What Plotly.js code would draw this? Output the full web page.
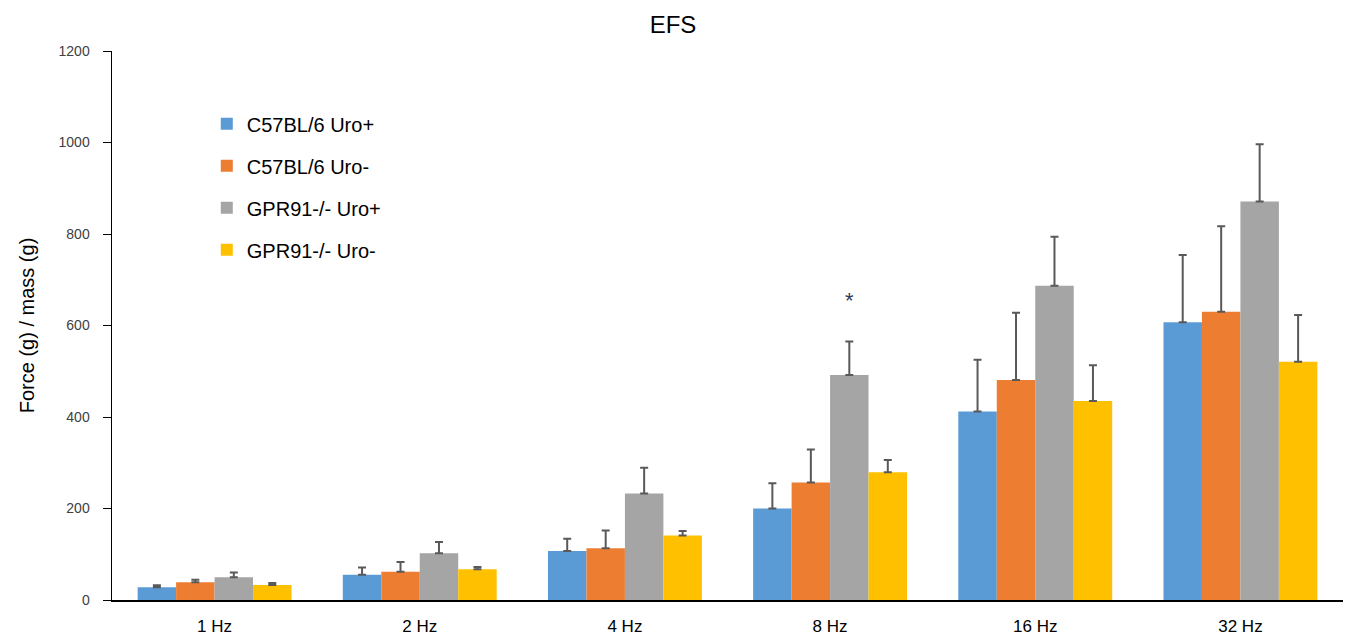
<!DOCTYPE html>
<html>
<head>
<meta charset="utf-8">
<script src="https://cdn.plot.ly/plotly-3.0.1.min.js"></script>
<style>html,body{margin:0;padding:0;background:#fff;}#chart{width:1346px;height:638px;}</style>
</head>
<body>
<div id="chart"></div>
<script>
const categories = ['1 Hz', '2 Hz', '4 Hz', '8 Hz', '16 Hz', '32 Hz'];
const seriesNames = ['C57BL/6 Uro+', 'C57BL/6 Uro-', 'GPR91-/- Uro+', 'GPR91-/- Uro-'];
const c57UroPlus = [28, 55, 107, 200, 412, 607];
const c57UroMinus = [39, 62, 113, 257, 481, 630];
const gprUroPlus = [50, 102, 233, 492, 687, 871];
const gprUroMinus = [33, 67, 141, 279, 435, 521];
const c57UroPlusErr = [4, 16, 27, 55, 113, 147];
const c57UroMinusErr = [5, 21, 39, 72, 147, 187];
const gprUroPlusErr = [10, 25, 56, 73, 107, 125];
const gprUroMinusErr = [4, 5, 10, 27, 78, 102];
const yTicks = [0, 200, 400, 600, 800, 1000, 1200];
const sigCategory = '8 Hz';
const sigValue = 655;

const colors = ['#5B9BD5', '#ED7D31', '#A5A5A5', '#FFC000'];
const values = [c57UroPlus, c57UroMinus, gprUroPlus, gprUroMinus];
const errs = [c57UroPlusErr, c57UroMinusErr, gprUroPlusErr, gprUroMinusErr];

const traces = seriesNames.map((name, i) => ({
  type: 'bar',
  name: name,
  x: categories,
  y: values[i],
  legendgroup: 'g' + i,
  marker: {color: colors[i], line: {width: 0}},
  error_y: {
    type: 'data',
    symmetric: false,
    array: errs[i],
    arrayminus: errs[i].map(() => 0),
    color: '#595959',
    thickness: 2,
    width: 4
  },
  hoverinfo: 'x+y+name'
}));

const layout = {
  width: 1346,
  height: 638,
  margin: {l: 112, r: 3, t: 51, b: 38},
  paper_bgcolor: '#ffffff',
  plot_bgcolor: '#ffffff',
  font: {family: 'Liberation Sans, Arial, sans-serif', color: '#000'},
  title: {text: 'EFS', font: {size: 24, color: '#000'}, x: 0.5, xanchor: 'center', xref: 'container', y: 0.962, yanchor: 'middle', yref: 'container'},
  barmode: 'group',
  bargap: 0.25,
  bargroupgap: 0,
  showlegend: true,
  legend: {
    x: 0.077, y: 0.903, xanchor: 'left', yanchor: 'top',
    font: {size: 20, color: '#000'},
    traceorder: 'grouped',
    tracegroupgap: 13,
    itemwidth: 30,
    bgcolor: 'rgba(0,0,0,0)'
  },
  xaxis: {
    type: 'category',
    showline: true, linecolor: '#000', linewidth: 2,
    ticks: '', showgrid: false, zeroline: false,
    tickfont: {size: 17, color: '#000'},
    ticklabelstandoff: 10,
    fixedrange: true
  },
  yaxis: {
    range: [0, 1200],
    tickmode: 'array', tickvals: yTicks, ticktext: yTicks.map(String),
    showline: true, linecolor: '#000', linewidth: 1.5,
    ticks: 'outside', ticklen: 8, tickcolor: '#000', tickwidth: 1,
    showgrid: false, zeroline: false,
    tickfont: {size: 14, color: '#404040'},
    ticklabelstandoff: 10,
    title: {text: 'Force (g) / mass (g)', font: {size: 20, color: '#000'}, standoff: 18},
    fixedrange: true
  },
  annotations: [{
    x: sigCategory, y: sigValue, xref: 'x', yref: 'y',
    text: '*', showarrow: false, xshift: 19,
    font: {size: 22, color: '#2F3A5A'}
  }]
};

Plotly.newPlot('chart', traces, layout, {displayModeBar: false, staticPlot: true});
</script>
</body>
</html>
